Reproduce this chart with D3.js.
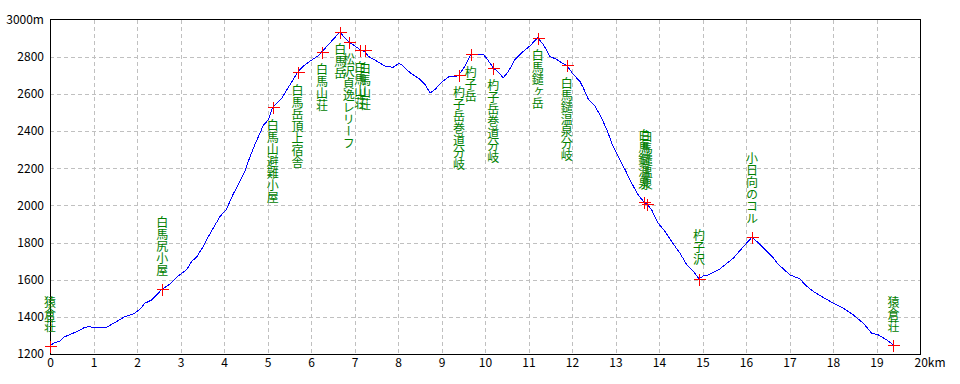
<!DOCTYPE html>
<html>
<head>
<meta charset="utf-8">
<script src="https://cdn.jsdelivr.net/npm/d3@7"></script>
<style>
  html, body { margin: 0; padding: 0; background: #fff; }
  svg { display: block; }
</style>
</head>
<body>
<svg id="chart" width="960" height="384"></svg>
<script>
// ---- profile data (distance km, elevation m) ----
const profileKm = [0.00,0.11,0.23,0.31,0.42,0.65,0.80,0.92,0.96,1.30,1.46,1.72,1.92,2.07,2.18,2.34,2.45,2.58,2.76,2.95,3.14,3.26,3.37,3.52,3.60,3.75,3.91,4.06,4.21,4.37,4.48,4.60,4.71,4.83,4.90,5.02,5.12,5.33,5.52,5.69,5.82,5.98,6.17,6.25,6.44,6.67,6.74,6.87,7.01,7.13,7.24,7.32,7.51,7.70,7.89,8.01,8.08,8.28,8.51,8.62,8.74,8.85,9.00,9.16,9.31,9.40,9.54,9.67,9.77,9.96,10.03,10.19,10.31,10.42,10.54,10.69,10.84,11.03,11.21,11.34,11.49,11.65,11.76,11.88,12.03,12.18,12.26,12.38,12.53,12.68,12.83,12.91,13.06,13.22,13.37,13.52,13.66,13.72,13.83,13.98,14.14,14.29,14.48,14.64,14.79,14.92,15.02,15.10,15.29,15.40,15.71,15.94,16.14,16.25,16.44,16.63,16.74,17.01,17.24,17.36,17.55,17.74,18.01,18.24,18.47,18.70,18.89,19.05,19.24,19.39];
const profileElev = [1245,1261,1270,1290,1301,1324,1344,1347,1344,1344,1365,1401,1416,1441,1473,1491,1518,1550,1576,1620,1653,1700,1721,1778,1815,1877,1940,1980,2060,2130,2183,2263,2327,2390,2429,2461,2528,2578,2650,2716,2749,2776,2806,2826,2875,2934,2910,2880,2857,2838,2825,2802,2776,2749,2743,2763,2758,2713,2677,2650,2605,2623,2662,2691,2691,2702,2749,2812,2812,2812,2794,2740,2716,2686,2722,2785,2821,2857,2902,2866,2802,2785,2767,2753,2704,2668,2632,2569,2533,2470,2390,2336,2263,2192,2120,2057,2016,2009,1976,1904,1859,1805,1743,1680,1644,1604,1620,1622,1644,1658,1716,1778,1829,1805,1761,1716,1683,1626,1604,1572,1536,1509,1473,1446,1410,1365,1312,1302,1275,1248];

// ---- waypoints ----
const wpNames = ["猿倉荘","白馬尻小屋","白馬山避難小屋","白馬岳頂上宿舎","白馬山荘","白馬岳","松沢貞逸レリーフ","白馬山荘","白馬山荘","杓子岳巻道分岐","杓子岳","杓子岳巻道分岐","白馬鑓ヶ岳","白馬鑓温泉分岐","白馬鑓温泉","白馬鑓温泉","杓子沢","小日向のコル","猿倉荘"];
const wpKm    = [0.00,2.58,5.12,5.69,6.25,6.67,6.87,7.13,7.24,9.40,9.67,10.19,11.21,11.88,13.66,13.72,14.92,16.14,19.39];
const wpElev  = [1245,1550,2528,2716,2826,2934,2880,2838,2835,2702,2812,2740,2902,2753,2016,2009,1604,1829,1248];
const wpAbove = [true,true,false,false,false,false,false,false,false,false,false,false,false,false,true,true,true,true,true];

// ---- axis ticks ----
const xTicks = d3.range(0, 21, 1);
const yTicks = d3.range(1200, 3001, 200);

const svg = d3.select("#chart");
const x = d3.scaleLinear().domain([0, 20]).range([50, 920]);
const y = d3.scaleLinear().domain([1200, 3000]).range([354, 19.5]);

const font = "'Noto Sans CJK JP', 'Noto Sans', sans-serif";

// grid
const grid = svg.append("g").attr("stroke", "#c0c0c0").attr("stroke-dasharray", "4,3")
  .attr("shape-rendering", "crispEdges");
grid.selectAll("line.v").data(xTicks.slice(1, -1)).join("line")
  .attr("x1", d => Math.round(x(d)) + 0.5).attr("x2", d => Math.round(x(d)) + 0.5)
  .attr("y1", y(3000)).attr("y2", y(1200));
grid.selectAll("line.h").data(yTicks.slice(1, -1)).join("line")
  .attr("x1", x(0)).attr("x2", x(20))
  .attr("y1", d => Math.round(y(d)) + 0.5).attr("y2", d => Math.round(y(d)) + 0.5);

// frame
svg.append("rect").attr("x", 50.5).attr("y", 19.5).attr("width", 870).attr("height", 334.5)
  .attr("fill", "none").attr("stroke", "#000").attr("shape-rendering", "crispEdges");

// axes (labels only)
const yAxis = d3.axisLeft(y).tickValues(yTicks).tickSize(0).tickPadding(6)
  .tickFormat(d => d === 3000 ? "3000m" : String(d));
const gy = svg.append("g").attr("transform", "translate(50,0)").call(yAxis);
gy.select(".domain").remove();
gy.selectAll("text").attr("font-family", font).attr("font-size", 12).attr("fill", "#000");

const xAxis = d3.axisBottom(x).tickValues(xTicks).tickSize(0).tickPadding(4)
  .tickFormat(d => d === 20 ? "20km" : String(d));
const gx = svg.append("g").attr("transform", "translate(0,354)").call(xAxis);
gx.select(".domain").remove();
gx.selectAll("text").attr("font-family", font).attr("font-size", 12).attr("fill", "#000");
gx.selectAll(".tick").filter(d => d === 20).select("text").attr("text-anchor", "start").attr("x", -6);

// profile line
const line = d3.line().x(d => x(d[0])).y(d => y(d[1]));
svg.append("path").datum(profileKm.map((k, i) => [k, profileElev[i]]))
  .attr("d", line).attr("fill", "none").attr("stroke", "#0000ff").attr("stroke-width", 1)
  .attr("shape-rendering", "crispEdges");

// waypoint markers
const wps = wpNames.map((n, i) => ({ name: n, km: wpKm[i], elev: wpElev[i], above: wpAbove[i] }));
const mk = svg.append("g").attr("stroke", "#ff0000").attr("stroke-width", 1).attr("shape-rendering", "crispEdges");
wps.forEach(w => {
  const cx = Math.round(x(w.km)) + 0.5, cy = Math.round(y(w.elev)) + 0.5;
  mk.append("line").attr("x1", cx - 6).attr("x2", cx + 6).attr("y1", cy).attr("y2", cy);
  mk.append("line").attr("x1", cx).attr("x2", cx).attr("y1", cy - 6).attr("y2", cy + 6);
});

// vertical labels
const lab = svg.append("g").attr("fill", "#008000").attr("font-family", font).attr("font-size", 12);
wps.forEach(w => {
  const cx = x(w.km), cy = y(w.elev);
  const n = Array.from(w.name).length;
  const top = w.above ? cy - 13 - 12 * n : cy + 12;
  lab.append("text")
    .attr("x", cx).attr("y", top)
    .style("writing-mode", "vertical-rl")
    .text(w.name);
});
</script>
</body>
</html>
